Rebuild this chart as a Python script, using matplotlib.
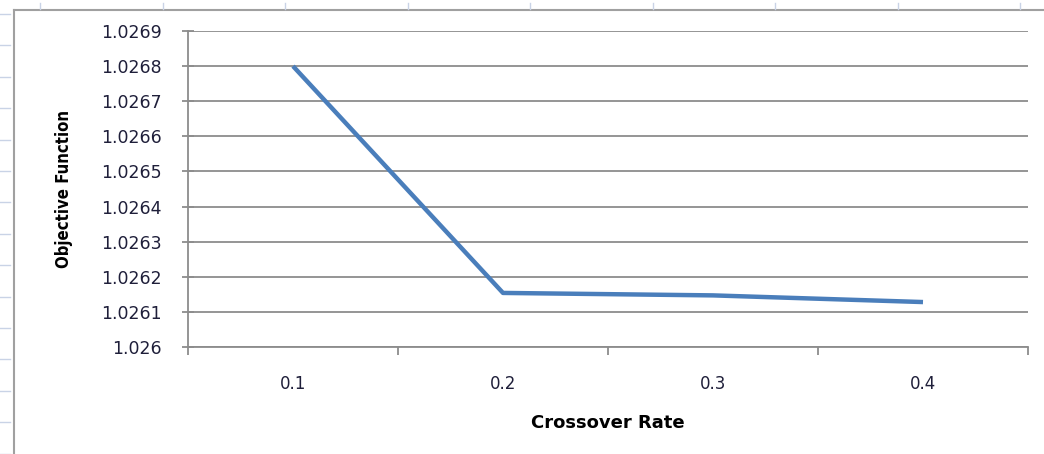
import numpy as np
import matplotlib
matplotlib.use("Agg")
import matplotlib.pyplot as plt
from matplotlib.lines import Line2D

# data
rates = ["0.1", "0.2", "0.3", "0.4"]
objective = [1.0268, 1.026154, 1.026147, 1.026128]
yticks = [1.026, 1.0261, 1.0262, 1.0263, 1.0264, 1.0265, 1.0266, 1.0267, 1.0268, 1.0269]
yticklabels = ["1.026", "1.0261", "1.0262", "1.0263", "1.0264", "1.0265",
               "1.0266", "1.0267", "1.0268", "1.0269"]

W, H = 1044, 454
fig = plt.figure(figsize=(W / 100, H / 100), dpi=100)
ax = fig.add_axes([188 / W, 1 - 347 / H, 840 / W, 316 / H])

grid_col = "#8c8c8c"
x = np.arange(1, len(rates) + 1)
ax.plot(x, objective, color="#4a7ebb", lw=3.2, solid_capstyle="butt", zorder=3)

ax.set_xlim(0.5, len(rates) + 0.5)
ax.set_ylim(yticks[0], yticks[-1])
ax.set_yticks(yticks)
ax.set_yticklabels(yticklabels, fontsize=12.5, family="DejaVu Sans", color="#1f1f3a")
ax.set_xticks(np.arange(0.5, len(rates) + 1, 1))
ax.set_xticklabels([])
ax.set_xticks(x, minor=True)
ax.set_xticklabels(rates, minor=True, fontsize=12, family="DejaVu Sans", color="#1f1f3a")
ax.tick_params(axis="x", which="minor", length=0, pad=20)
ax.tick_params(axis="x", which="major", length=6, color=grid_col, width=1.3, direction="out")
ax.tick_params(axis="y", length=8, color=grid_col, width=1.3, direction="inout", pad=15)
ax.grid(axis="y", color=grid_col, lw=1.3)

for s in ["top", "right"]:
    ax.spines[s].set_visible(False)
for s in ["left", "bottom"]:
    ax.spines[s].set_color(grid_col)
    ax.spines[s].set_linewidth(1.3)

ax.set_ylabel("Objective Function", fontsize=12, fontweight="bold",
              family="DejaVu Sans", fontstretch="condensed", labelpad=20)
ax.set_xlabel("Crossover Rate", fontsize=13, fontweight="bold",
              family="DejaVu Sans", labelpad=15)

# chart border and the sheet grid marks around it
fig.add_artist(Line2D([14 / W, 14 / W], [0, 1 - 10 / H], color="#a0a0a0", lw=1.5,
                      transform=fig.transFigure))
fig.add_artist(Line2D([14 / W, 1], [1 - 10 / H, 1 - 10 / H], color="#a0a0a0", lw=1.5,
                      transform=fig.transFigure))
for yy in np.arange(14, H, 31.4):
    fig.add_artist(Line2D([0, 10 / W], [1 - yy / H] * 2, color="#c9d3e6", lw=1,
                          transform=fig.transFigure))
for xx in np.arange(40, W, 122.5):
    fig.add_artist(Line2D([xx / W] * 2, [1 - 3 / H, 1 - 9 / H], color="#c9d3e6", lw=1,
                          transform=fig.transFigure))

fig.savefig("out.png", dpi=100)
